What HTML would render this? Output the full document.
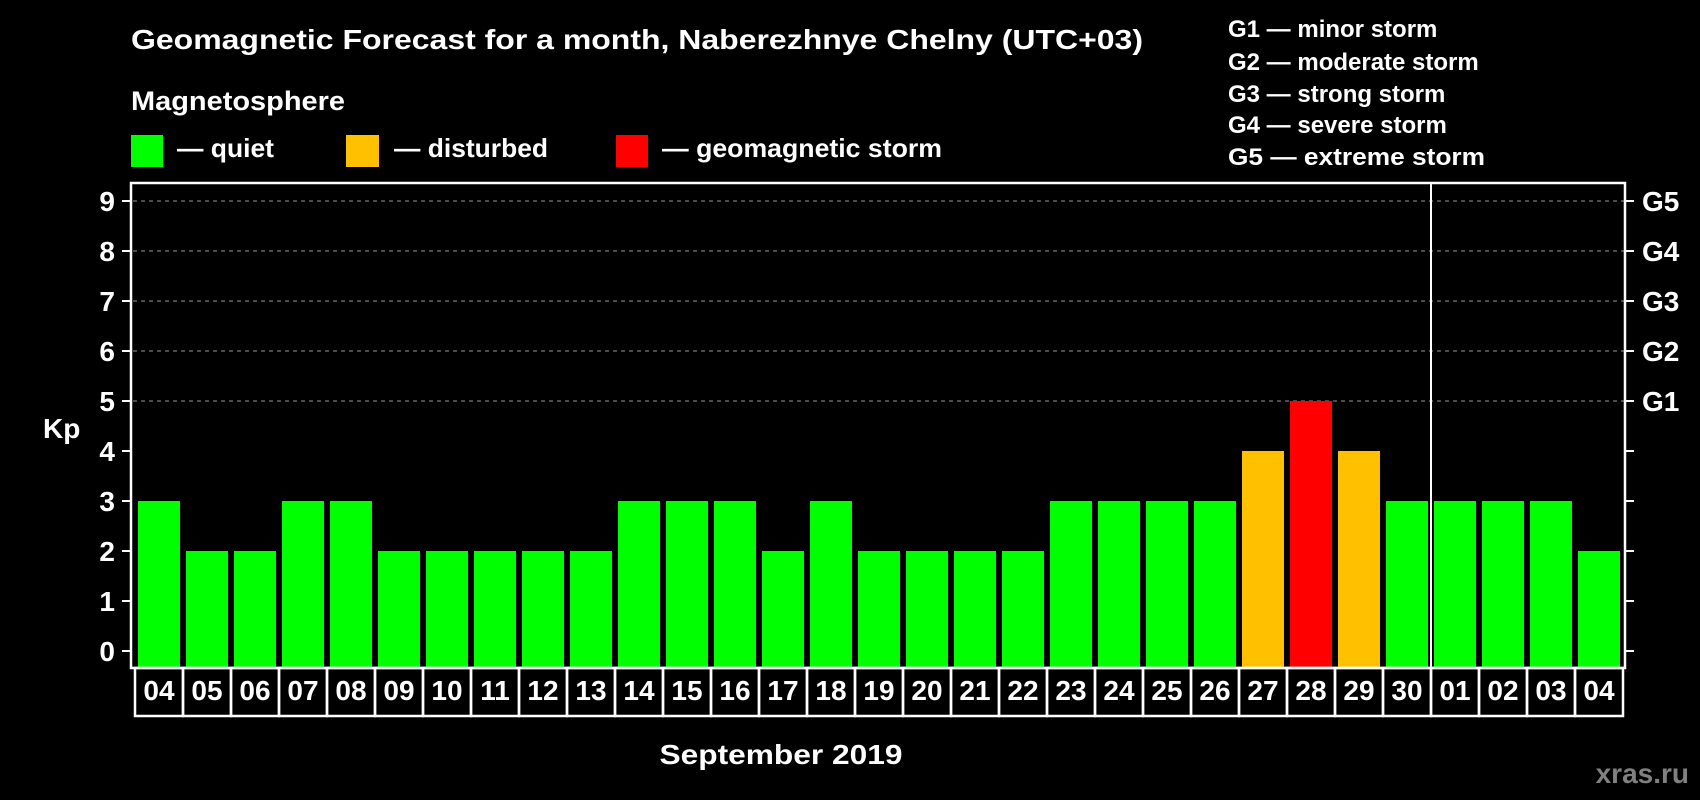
<!DOCTYPE html>
<html><head><meta charset="utf-8"><style>
html,body{margin:0;padding:0;background:#000;}
svg{display:block;}
text{font-family:"Liberation Sans",Arial,sans-serif;font-weight:bold;fill:#fff;}
</style></head><body>
<svg id="chart" width="1700" height="800" viewBox="0 0 1700 800">
<rect x="0" y="0" width="1700" height="800" fill="#000"/>
<text x="131" y="49" font-size="28" textLength="1012" lengthAdjust="spacingAndGlyphs">Geomagnetic Forecast for a month, Naberezhnye Chelny (UTC+03)</text>
<text x="131" y="110" font-size="27" textLength="214" lengthAdjust="spacingAndGlyphs">Magnetosphere</text>
<g>
<rect x="131" y="135" width="32" height="32" fill="#00ff00"/>
<text x="177" y="157" font-size="26" textLength="97" lengthAdjust="spacingAndGlyphs">— quiet</text></g>
<g>
<rect x="346" y="135" width="33" height="32" fill="#ffc000"/>
<text x="394" y="157" font-size="26" textLength="154" lengthAdjust="spacingAndGlyphs">— disturbed</text></g>
<g>
<rect x="616" y="135" width="32" height="32" fill="#ff0000"/>
<text x="662" y="157" font-size="26" textLength="280" lengthAdjust="spacingAndGlyphs">— geomagnetic storm</text></g>
<g>
<text x="1228" y="37" font-size="24">G1 — minor storm</text>
<text x="1228" y="70" font-size="24">G2 — moderate storm</text>
<text x="1228" y="102" font-size="24">G3 — strong storm</text>
<text x="1228" y="133" font-size="24">G4 — severe storm</text>
<text x="1228" y="165" font-size="24" textLength="257" lengthAdjust="spacingAndGlyphs">G5 — extreme storm</text>
</g>
<text x="43" y="438" font-size="28">Kp</text>
<text x="781" y="764" font-size="28" text-anchor="middle" textLength="243" lengthAdjust="spacingAndGlyphs">September 2019</text>
<text x="1689" y="783" font-size="28" text-anchor="end" style="fill:#808080">xras.ru</text>
<g id="grid"></g><g id="bars"></g><g id="axes"></g>
</svg>
<script>
const days = ["04","05","06","07","08","09","10","11","12","13","14","15","16","17","18","19","20","21","22","23","24","25","26","27","28","29","30","01","02","03","04"];
const kpValues = [3,2,2,3,3,2,2,2,2,2,3,3,3,2,3,2,2,2,2,3,3,3,3,4,5,4,3,3,3,3,2];
const yTicks = [0,1,2,3,4,5,6,7,8,9];
const gLabels = ["","","","","","G1","G2","G3","G4","G5"];
const monthStartIndex = 27;

const NS = "http://www.w3.org/2000/svg";
const plotL = 131, plotR = 1625, plotT = 183, plotB = 668;
const x0 = 135, pitch = 48;
function yScale(v){ return 651 - v*50; }
function xScale(i){ return x0 + i*pitch; }
function mk(tag, attrs, parent){ const e=document.createElementNS(NS,tag); for(const k in attrs) e.setAttribute(k,attrs[k]); parent.appendChild(e); return e; }
function color(v){ return v>=5 ? "#ff0000" : (v>=4 ? "#ffc000" : "#00ff00"); }

const grid = document.getElementById("grid");
const bars = document.getElementById("bars");
const axes = document.getElementById("axes");

yTicks.forEach((t,i)=>{
  const y = yScale(t);
  if (t>=5) {
    const g = mk("line",{x1:plotL+2,x2:plotR-1,y1:y,y2:y,stroke:"#999",'stroke-width':1,'stroke-dasharray':"4 4"},grid);
    
    
  }
  const lt = mk("line",{x1:122,x2:plotL,y1:y,y2:y,stroke:"#fff",'stroke-width':2},axes);
  
  
  const rt = mk("line",{x1:plotR,x2:1634,y1:y,y2:y,stroke:"#fff",'stroke-width':2},axes);
  
  
  const tl = mk("text",{x:115,y:y+10,'font-size':28,'text-anchor':'end'},axes);
  tl.textContent = String(t);
  
  
  if (gLabels[i]) {
    const gl = mk("text",{x:1642,y:y+10,'font-size':28},axes);
    gl.textContent = gLabels[i];
    
    
  }
});

kpValues.forEach((v,i)=>{
  const x = xScale(i)+3, y = yScale(v);
  const r = mk("rect",{x:x,y:y,width:42,height:plotB-y,fill:color(v)},bars);
  
  
});

const frame = mk("rect",{x:plotL,y:plotT,width:plotR-plotL,height:plotB-plotT,fill:"none",stroke:"#fff",'stroke-width':2.5},axes);


const mx = xScale(monthStartIndex);
const ml = mk("line",{x1:mx,x2:mx,y1:plotT,y2:plotB,stroke:"#fff",'stroke-width':2},axes);



days.forEach((d,i)=>{
  const x = xScale(i);
  const b = mk("rect",{x:x,y:plotB,width:pitch,height:48,fill:"none",stroke:"#fff",'stroke-width':2.5},axes);
  
  
  const t = mk("text",{x:x+pitch/2,y:700,'font-size':28,'text-anchor':'middle'},axes);
  t.textContent = d;
  
  
});
</script>
</body></html>
